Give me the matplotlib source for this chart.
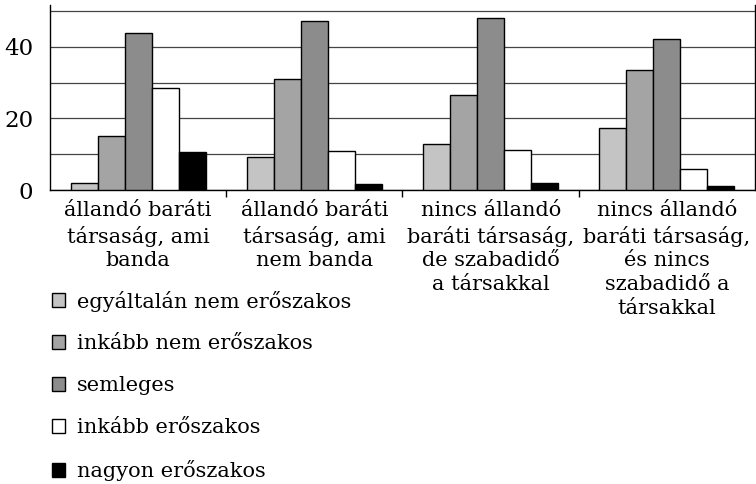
import numpy as np
import matplotlib
matplotlib.use("Agg")
import matplotlib.pyplot as plt

groups = ["állandó baráti\ntársaság, ami\nbanda",
          "állandó baráti\ntársaság, ami\nnem banda",
          "nincs állandó\nbaráti társaság,\nde szabadidő\na társakkal",
          "nincs állandó\nbaráti társaság,\nés nincs\nszabadidő a\ntársakkal"]
series = ["egyáltalán nem erőszakos", "inkább nem erőszakos", "semleges",
          "inkább erőszakos", "nagyon erőszakos"]
values = [
    [2.0, 9.3, 12.8, 17.4],
    [15.1, 31.0, 26.5, 33.5],
    [43.8, 47.3, 48.0, 42.2],
    [28.4, 10.9, 11.2, 5.9],
    [10.7, 1.7, 2.0, 1.1],
]
colors = ["#c4c4c4", "#a4a4a4", "#8c8c8c", "#ffffff", "#000000"]

plt.rcParams['font.family'] = ['DejaVu Serif']
fig = plt.figure(figsize=(7.56, 4.84), dpi=100)
ax = fig.add_axes([0.0661, 0.6074, 0.9326, 0.382])

x = np.arange(len(groups))
w = 0.153
for i, (name, vals, c) in enumerate(zip(series, values, colors)):
    ax.bar(x + (i - 2) * w, vals, w, color=c, edgecolor="black",
           linewidth=1.0, label=name, zorder=3)

ax.set_xlim(-0.5, len(groups) - 0.5)
ax.set_ylim(0, 51.6)
ax.set_yticks([0, 10, 20, 30, 40, 50])
ax.set_yticklabels(["0", "", "20", "", "40", ""], fontsize=16.5)
ax.tick_params(axis="y", length=0, pad=12)
ax.yaxis.grid(True, color="#444444", linewidth=0.9, zorder=0)
ax.set_axisbelow(True)

ax.set_xticks(x)
ax.set_xticklabels(groups, fontsize=15, linespacing=1.32, va="top")
ax.tick_params(axis="x", length=0, pad=8)
ax.set_xticks(np.arange(0.5, len(groups) - 0.5), minor=True)
ax.tick_params(axis="x", which="minor", length=5, width=1, color="black")

ax.spines["top"].set_visible(False)
for s in ["left", "right", "bottom"]:
    ax.spines[s].set_linewidth(1.0)
    ax.spines[s].set_color("black")

fig.legend(loc="upper left", bbox_to_anchor=(0.058, 0.417), frameon=False,
           fontsize=15, handlelength=0.62, handleheight=0.62,
           handletextpad=0.55, labelspacing=1.1, borderaxespad=0)

fig.savefig("out.png", dpi=100)
